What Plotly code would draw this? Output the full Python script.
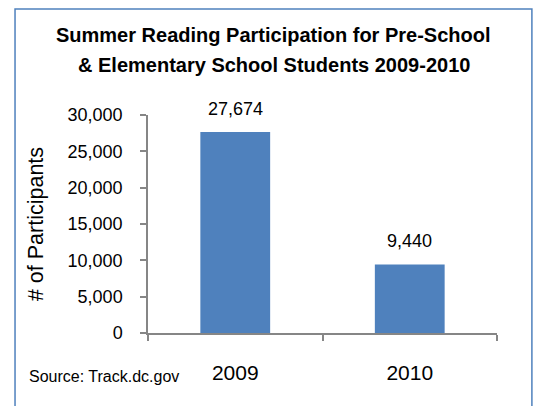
import plotly.graph_objects as go

years = ["2009", "2010"]
participants = [27674, 9440]
y_ticks = [0, 5000, 10000, 15000, 20000, 25000, 30000]
y_tick_labels = ["0", "5,000", "10,000", "15,000", "20,000", "25,000", "30,000"]
data_labels = ["27,674", "9,440"]
title_lines = ["Summer Reading Participation for Pre-School",
               "& Elementary School Students 2009-2010"]
y_title = "# of Participants"
source_text = "Source: Track.dc.gov"

FONT = "Liberation Sans, Arial, sans-serif"
BLUE = "#4F81BD"
GRAY = "#868686"

fig = go.Figure()
fig.add_trace(go.Bar(x=years, y=participants, marker=dict(color=BLUE, line=dict(width=0)),
                     width=0.4, hoverinfo="skip"))

annotations = []
for i, (val, lab) in enumerate(zip(participants, data_labels)):
    annotations.append(dict(x=i, y=val, xref="x", yref="y", text=lab, showarrow=False,
                            yanchor="bottom", yshift=11,
                            font=dict(family=FONT, size=18, color="black")))

annotations.append(dict(x=0.361, y=1.367, xref="paper", yref="paper", text="<b>" + title_lines[0] + "</b>",
                        showarrow=False, xanchor="center", yanchor="middle",
                        font=dict(family=FONT, size=20, color="black")))
annotations.append(dict(x=0.361, y=1.229, xref="paper", yref="paper", text="<b>" + title_lines[1] + "</b>",
                        showarrow=False, xanchor="center", yanchor="middle",
                        font=dict(family=FONT, size=20, color="black")))
annotations.append(dict(x=-0.347, y=-0.2, xref="paper", yref="paper", text=source_text,
                        showarrow=False, xanchor="left", yanchor="middle",
                        font=dict(family=FONT, size=16, color="black")))

fig.update_layout(
    width=534, height=406,
    margin=dict(l=148, r=37, t=115, b=73),
    paper_bgcolor="white", plot_bgcolor="white",
    showlegend=False,
    annotations=annotations,
    font=dict(family=FONT, color="black"),
    shapes=[dict(type="rect", xref="paper", yref="paper",
                 x0=-0.381, x1=1.100, y0=-0.40, y1=1.486,
                 line=dict(color=BLUE, width=1.5), fillcolor="rgba(0,0,0,0)", layer="below")],
    bargap=0.6,
)
fig.update_xaxes(type="category", range=[-0.5, 1.5], showline=True, linecolor=GRAY, linewidth=1.5,
                 ticks="outside", tickson="boundaries", ticklen=6, tickcolor=GRAY, tickwidth=1.5,
                 tickfont=dict(family=FONT, size=21, color="black"), ticklabelstandoff=20,
                 showgrid=False, zeroline=False)
fig.update_yaxes(range=[0, 30000], tickvals=y_ticks, ticktext=y_tick_labels, showline=True,
                 linecolor=GRAY, linewidth=1.5, ticks="outside", ticklen=6, tickcolor=GRAY,
                 tickwidth=1.5, tickfont=dict(family=FONT, size=18, color="black"),
                 ticklabelstandoff=14, showgrid=False, zeroline=False,
                 title=dict(text=y_title, font=dict(family=FONT, size=21.5, color="black"), standoff=18))

fig.write_html("out.html", config={"displayModeBar": False},
               post_script="document.body.style.margin='0';")
